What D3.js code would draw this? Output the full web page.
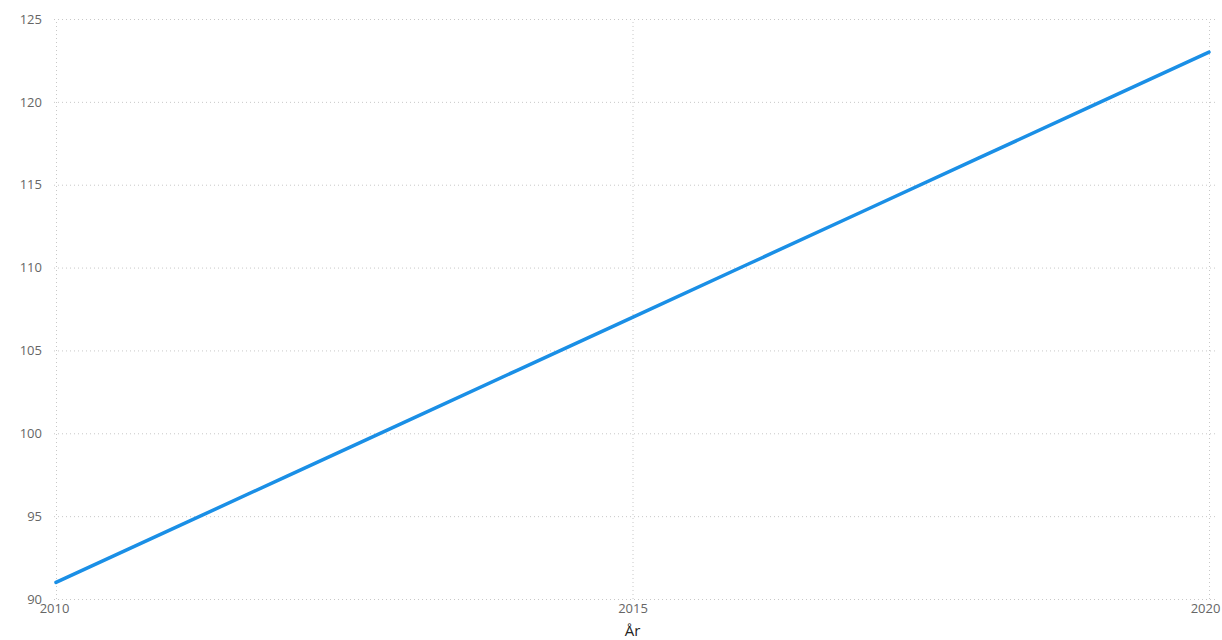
<!DOCTYPE html>
<html>
<head>
<meta charset="utf-8">
<script src="https://cdn.jsdelivr.net/npm/d3@7"></script>
<style>
  body { margin: 0; background: #fff; }
  .tick text { fill: #666; font-family: "Open Sans", sans-serif; font-size: 13px; }
  .grid line { stroke: #c8c8c8; stroke-dasharray: 1,3; }
  .domain { display: none; }
</style>
</head>
<body>
<div id="chart"></div>
<script>
// values
var years = [2010, 2011, 2012, 2013, 2014, 2015, 2016, 2017, 2018, 2019, 2020];
var values = [91, 94.2, 97.4, 100.6, 103.8, 107, 110.2, 113.4, 116.6, 119.8, 123];
var yTicks = [90, 95, 100, 105, 110, 115, 120, 125];
var xTicks = [2010, 2015, 2020];

var data = years.map((d, i) => ({year: d, value: values[i]}));

var margin = {top: 19, right: 13, bottom: 41, left: 56},
    width = 1222 - margin.left - margin.right,
    height = 640 - margin.top - margin.bottom;

var svg = d3.select("#chart")
    .append("svg")
    .attr("width", 1222)
    .attr("height", 640)
    .append("g")
    .attr("transform", "translate(" + margin.left + "," + margin.top + ")");

var x = d3.scaleLinear().domain([2010, 2020]).range([0, width]);
var y = d3.scaleLinear().domain([90, 125]).range([height, 0]);

// horizontal grid + y labels
svg.append("g")
    .attr("class", "grid")
    .call(d3.axisLeft(y).tickValues(yTicks).tickSize(-width).tickPadding(14))
    .call(g => g.selectAll("line").attr("x1", -2).attr("x2", width + 6));

// vertical grid
svg.append("g")
    .attr("class", "grid")
    .attr("transform", "translate(0," + height + ")")
    .call(d3.axisBottom(x).tickValues(xTicks).tickFormat("").tickSize(-height))
    .call(g => g.selectAll("text").remove());

// x labels (last one nudged in so it stays inside the frame)
svg.append("g")
    .attr("transform", "translate(0," + height + ")")
    .call(d3.axisBottom(x).tickValues(xTicks).tickFormat(d3.format("d")).tickSize(0).tickPadding(5))
    .call(g => g.selectAll(".tick text").attr("dx", d => d === 2010 ? -2 : d === 2020 ? -4 : 0));

svg.append("text")
    .attr("x", width / 2)
    .attr("y", height + 37)
    .attr("text-anchor", "middle")
    .style("font-family", "'Open Sans', sans-serif")
    .style("font-size", "15px")
    .style("fill", "#252423")
    .text("År");

var line = d3.line().x(d => x(d.year)).y(d => y(d.value));

svg.append("path")
    .datum(data)
    .attr("fill", "none")
    .attr("stroke", "#1a8fe6")
    .attr("stroke-width", 3.5)
    .attr("stroke-linecap", "round")
    .attr("d", line);
</script>
</body>
</html>
